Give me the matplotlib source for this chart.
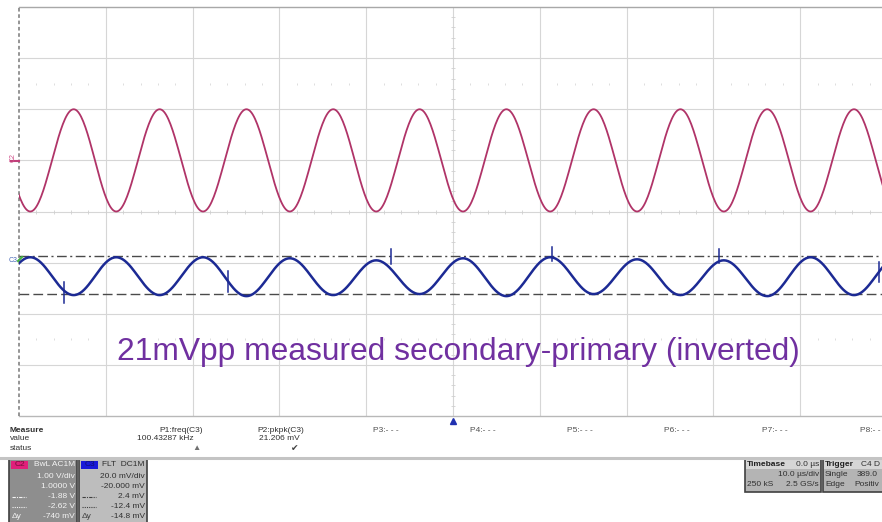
import numpy as np
import matplotlib.pyplot as plt
from matplotlib.patches import Rectangle

W, H = 882, 522

# channel settings
c2_vdiv, c2_offset = 1.0, 1.0        # V/div, V
c3_vdiv, c3_offset = 20.0, -20.0     # mV/div, mV
cursor_mv = [2.4, -12.4]             # C3 cursors (dash-dot, dashed)

# extrema of the traces (time in us)
ext_t = [-53.7, -48.7, -43.7, -38.8, -33.8, -28.8, -23.8, -18.8, -13.8, -8.85, -3.85,
         1.15, 6.15, 11.2, 16.2, 21.2, 26.2, 31.2, 36.2, 41.2, 46.2, 51.2]
red_v = [1.0, -1.0, 1.0, -1.0, 1.0, -1.0, 1.0, -1.0, 1.0, -1.0, 1.0,
         -1.0, 1.0, -1.0, 1.0, -1.0, 1.0, -1.0, 1.0, -1.0, 1.0, -1.0]
blue_mv = [-12.7, 2.1, -12.7, 2.1, -12.7, 2.1, -13.1, 1.7, -12.7, 0.9, -12.3,
           1.7, -13.1, 2.1, -12.3, 1.3, -12.7, 0.9, -13.1, 2.1, -12.7, 2.1]

# glitches on the C3 trace (time, low, high in mV)
spike_t = [-44.8, -25.9, -7.2, 11.4, 30.6, 49.1]
spike_lo = [-15.9, -11.6, -0.7, 0.5, -0.3, -7.7]
spike_hi = [-7.7, -3.4, 5.2, 6.0, 5.2, 0.1]

# measure panel
meas_names = ["P1:freq(C3)", "P2:pkpk(C3)", "P3:- - -", "P4:- - -", "P5:- - -",
              "P6:- - -", "P7:- - -", "P8:- -"]
meas_values = ["100.43287 kHz", "21.206 mV"]

note = "21mVpp measured secondary-primary (inverted)"


def shaped(t, v, n=40):
    # join the read extrema with half-cosine arcs
    tt, vv = [], []
    for i in range(len(t) - 1):
        s = np.linspace(0, 1, n, endpoint=False)
        tt.append(t[i] + (t[i + 1] - t[i]) * s)
        vv.append(v[i] + (v[i + 1] - v[i]) * (1 - np.cos(np.pi * s)) / 2)
    return np.concatenate(tt), np.concatenate(vv)


fig = plt.figure(figsize=(W / 100, H / 100), dpi=100)
fig.patch.set_facecolor('white')

ax = fig.add_axes([19 / W, 1 - 416 / H, 868 / W, 409 / H])
ax.set_xlim(-50, 50)
ax.set_ylim(-4, 4)
ax.axis('off')

gc = '#d6d6d6'
for i in range(-4, 6):
    ax.axvline(i * 10, color=gc, lw=0.8, zorder=1)
for j in range(-3, 4):
    ax.axhline(j, color=gc, lw=0.8, zorder=1)
ax.axhline(4, color='#a8a8a8', lw=1.0, clip_on=False)
ax.axhline(-4, color='#b8b8b8', lw=1.0, clip_on=False)
ax.axvline(-50, color='#8c8c8c', lw=1.3, ls=(0, (2, 1.5)), clip_on=False)

# small tick marks on the centre axes and the +-2.5 div rows
xs = np.arange(-50, 50.1, 2)
ys = np.arange(-4, 4.01, 0.2)
ax.plot(xs, np.zeros_like(xs), ls='none', marker='|', ms=3, mew=0.6, color='#d0d0d0', zorder=1)
ax.plot(np.zeros_like(ys), ys, ls='none', marker='_', ms=3, mew=0.6, color='#d0d0d0', zorder=1)
for r in (2.5, -2.5):
    ax.plot(xs, np.full_like(xs, r), ls='none', marker='|', ms=2, mew=0.6, color='#d8d8d8', zorder=1)

# cursors
ax.axhline((cursor_mv[0] + c3_offset) / c3_vdiv, color='#4a4a4a', lw=1.0,
           ls=(0, (7, 2.5, 1.5, 2.5)), zorder=2)
ax.axhline((cursor_mv[1] + c3_offset) / c3_vdiv, color='#4a4a4a', lw=1.0,
           ls=(0, (7, 3)), zorder=2)

# traces
rt, rv = shaped(ext_t, red_v)
ax.plot(rt, (rv + c2_offset) / c2_vdiv, color='#b03468', lw=1.3, zorder=3)
bt, bv = shaped(ext_t, blue_mv)
ax.plot(bt, (bv + c3_offset) / c3_vdiv, color='#1c2a94', lw=1.8, zorder=4)
for st, lo, hi in zip(spike_t, spike_lo, spike_hi):
    ax.plot([st, st], [(lo + c3_offset) / c3_vdiv, (hi + c3_offset) / c3_vdiv],
            color='#1c2a94', lw=1.1, zorder=4)

# overlay in pixel coordinates for labels and the panel
ov = fig.add_axes([0, 0, 1, 1], facecolor='none')
ov.set_xlim(0, W)
ov.set_ylim(H, 0)
ov.axis('off')

fam = ['Liberation Sans', 'DejaVu Sans']
ov.text(13, 157, "C2", fontsize=5, color='#d0508a', rotation=90, ha='center', va='center', family=fam)
ov.plot([11, 19], [160.5, 160.5], color='#c0407a', lw=1.5)
ov.text(13, 260, "C3", fontsize=5, color='#4868b8', ha='center', va='center', family=fam)
ov.plot([18, 22], [261, 257], color='#40b040', lw=1.5)

ov.text(117, 352, note, fontsize=22.9, color='#7030a0', va='center', ha='left', family=fam)

# trigger marker
ov.plot(452.7, 421, marker='^', ms=5, color='#2030b0')

# measure table
fs = 6
tc = '#303030'
ov.text(10, 430, "Measure", fontsize=fs, weight='bold', color=tc, va='center', family=fam)
ov.text(10, 439, "value", fontsize=fs, color=tc, va='center', family=fam)
ov.text(10, 448, "status", fontsize=fs, color=tc, va='center', family=fam)
name_x = [203, 304, 373, 470, 567, 664, 762, 860]
for k, nm in enumerate(meas_names):
    if k < 2:
        ov.text(name_x[k], 430, nm, fontsize=fs, color=tc, va='center', ha='right', family=fam)
    else:
        ov.text(name_x[k], 430, nm, fontsize=fs, color='#505050', va='center', ha='left', family=fam)
ov.text(194, 439, meas_values[0], fontsize=fs, color=tc, va='center', ha='right', family=fam)
ov.text(300, 439, meas_values[1], fontsize=fs, color=tc, va='center', ha='right', family=fam)
ov.text(196, 449, "\u25B2", fontsize=6, color='#707070', va='center', ha='center', family=fam)
ov.text(295, 449, "\u2714", fontsize=6.5, color='#404040', va='center', ha='center', family=['DejaVu Sans'])
ov.plot([0, W], [457.5, 457.5], color='#c4c4c4', lw=2.2)


def box(x0, x1, y0, y1, face, edge='#404040'):
    ov.add_patch(Rectangle((x0, y0), x1 - x0, y1 - y0, facecolor=face, edgecolor=edge, lw=1.2))


# channel boxes
box(9, 77, 459, 523, '#8e8e8e')
ov.add_patch(Rectangle((11, 460.5), 17, 8, facecolor='#e0207a', edgecolor='none'))
ov.text(19.5, 464.5, "C2", fontsize=fs, color='#70103a', ha='center', va='center', family=fam)
c2_rows = ["BwL AC1M", "1.00 V/div", "1.0000 V", "-1.88 V", "-2.62 V", "-740 mV"]
box(79, 147, 459, 523, '#bdbdbd')
ov.add_patch(Rectangle((81, 460.5), 17, 8, facecolor='#1818d8', edgecolor='none'))
ov.text(89.5, 464.5, "C3", fontsize=fs, color='#101070', ha='center', va='center', family=fam)
c3_rows = ["FLT  DC1M", "20.0 mV/div", "-20.000 mV", "2.4 mV", "-12.4 mV", "-14.8 mV"]
row_y = [464, 477, 487, 497, 507, 516]
for k in range(6):
    ov.text(75, row_y[k], c2_rows[k], fontsize=fs, color='#f4f4f4', ha='right', va='center', family=fam)
    ov.text(145, row_y[k], c3_rows[k], fontsize=fs, color='#303030', ha='right', va='center', family=fam)
for x0, col in ((12, '#f4f4f4'), (82, '#404040')):
    ov.plot([x0, x0 + 14], [497, 497], color=col, lw=0.8, ls=(0, (3, 1, 1, 1)))
    ov.plot([x0, x0 + 14], [507, 507], color=col, lw=0.8, ls=(0, (1, 1)))
    ov.text(x0, 516, "\u0394y", fontsize=fs, color=col, ha='left', va='center', family=fam)

# timebase and trigger boxes
box(745, 821, 458, 492, '#b4b4b4')
ov.add_patch(Rectangle((746, 459), 74, 10, facecolor='#d6d6d6', edgecolor='none'))
ov.text(747, 464, "Timebase", fontsize=fs, weight='bold', color='#202020', va='center', family=fam)
ov.text(819, 464, "0.0 \u00b5s", fontsize=fs, color='#303030', ha='right', va='center', family=fam)
ov.text(819, 474, "10.0 \u00b5s/div", fontsize=fs, color='#303030', ha='right', va='center', family=fam)
ov.text(747, 484, "250 kS", fontsize=fs, color='#303030', va='center', family=fam)
ov.text(819, 484, "2.5 GS/s", fontsize=fs, color='#303030', ha='right', va='center', family=fam)
box(823, 890, 458, 492, '#b4b4b4')
ov.add_patch(Rectangle((824, 459), 66, 10, facecolor='#d6d6d6', edgecolor='none'))
ov.text(825, 464, "Trigger", fontsize=fs, weight='bold', color='#202020', va='center', family=fam)
ov.text(861, 464, "C4 D", fontsize=fs, color='#303030', va='center', family=fam)
ov.text(825, 474, "Single", fontsize=fs, color='#303030', va='center', family=fam)
ov.text(857, 474, "389.0", fontsize=fs, color='#303030', va='center', family=fam)
ov.text(825, 484, "Edge", fontsize=fs, color='#303030', va='center', family=fam)
ov.text(854, 484, "Positiv", fontsize=fs, color='#303030', va='center', family=fam)

fig.savefig("out.png", dpi=100)
